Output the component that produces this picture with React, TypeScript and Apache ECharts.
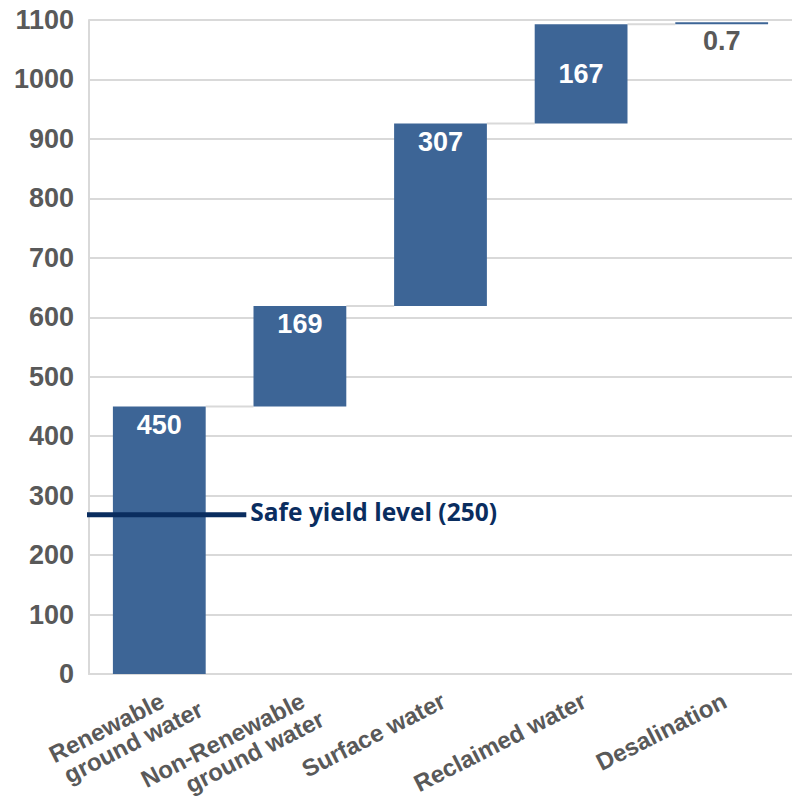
import React, { useEffect, useRef } from "react";
import * as echarts from "echarts";

// ---- data ----
const categories: string[] = [
  "Renewable\nground water",
  "Non-Renewable\nground water",
  "Surface water",
  "Reclaimed water",
  "Desalination",
];
const increments: number[] = [450, 169, 307, 167, 0.7];
const incrementLabels: string[] = ["450", "169", "307", "167", "0.7"];
const yMin = 0;
const yMax = 1100;
const yInterval = 100;
const safeYieldValue = 268;
const safeYieldText = "Safe yield level (250)";

// ---- styles ----
const FONT = "Arial, 'Liberation Sans', sans-serif";
const BAR = "#3d6596";
const GREY_TEXT = "#595959";
const GRID = "#d9d9d9";
const NAVY = "#0a2d5f";
const X_FONT_SIZE = 24;
const X_LINE_H = 25;
const X_ROT = (27 * Math.PI) / 180;
// extra shift (along the text direction) of the 2nd line of wrapped labels
const X_LINE2_SHIFT: number[] = [4, 37, 0, 0, 0];

const bases = increments.map((_, i) =>
  increments.slice(0, i).reduce((a, b) => a + b, 0)
);
const tops = bases.map((b, i) => b + increments[i]);

let measureCtx: CanvasRenderingContext2D | null = null;
function measure(text: string): number {
  if (!measureCtx) {
    measureCtx = document.createElement("canvas").getContext("2d");
  }
  if (!measureCtx) return text.length * X_FONT_SIZE * 0.55;
  measureCtx.font = `bold ${X_FONT_SIZE}px ${FONT}`;
  return measureCtx.measureText(text).width;
}

export default function App() {
  const ref = useRef<HTMLDivElement>(null);
  useEffect(() => {
    document.body.style.margin = "0";
    if (!ref.current) return;
    const chart = echarts.init(ref.current, undefined, { renderer: "svg" });
    const BAR_RATIO = 0.66;
    const last = increments.length - 1;

    const option: any = {
      animation: false,
      grid: { left: 89, top: 20, width: 705, height: 654 },
      xAxis: {
        type: "category",
        data: categories,
        axisLine: { show: true, lineStyle: { color: GRID, width: 2 } },
        axisTick: { show: false },
        axisLabel: { show: false },
        splitLine: { show: false },
      },
      yAxis: {
        type: "value",
        min: yMin,
        max: yMax,
        interval: yInterval,
        axisLine: { show: true, lineStyle: { color: GRID, width: 2 } },
        axisTick: { show: false },
        splitLine: { show: true, lineStyle: { color: GRID, width: 2 } },
        axisLabel: {
          color: GREY_TEXT,
          fontSize: 27,
          fontWeight: "bold",
          fontFamily: FONT,
          margin: 15,
          formatter: (v: number) => String(v),
        },
      },
      series: [
        {
          type: "bar",
          stack: "w",
          data: bases,
          barWidth: "66%",
          itemStyle: { color: "transparent" },
          silent: true,
        },
        {
          type: "bar",
          stack: "w",
          barWidth: "66%",
          barMinHeight: 2,
          itemStyle: { color: BAR },
          data: increments.map((v, i) =>
            i === last
              ? {
                  value: v,
                  label: { position: "bottom", color: GREY_TEXT, distance: 3 },
                }
              : i === last - 1
              ? { value: v, label: { distance: 36 } }
              : v
          ),
          label: {
            show: true,
            position: "insideTop",
            distance: 5,
            formatter: (p: any) => incrementLabels[p.dataIndex],
            color: "#ffffff",
            fontSize: 27,
            fontWeight: "bold",
            fontFamily: FONT,
          },
        },
        {
          // connectors between bars
          type: "custom",
          data: tops.slice(0, tops.length - 1).map((t, i) => [i, t]),
          encode: { x: 0, y: 1 },
          z: 1,
          silent: true,
          renderItem: (params: any, api: any) => {
            const idx = api.value(0);
            const p = api.coord([idx, api.value(1)]);
            const band = api.size([1, 0])[0];
            const bw = band * BAR_RATIO;
            return {
              type: "line",
              shape: {
                x1: p[0] + bw / 2,
                y1: p[1],
                x2: p[0] + band - bw / 2,
                y2: p[1],
              },
              style: { stroke: GRID, lineWidth: 2 },
            };
          },
        },
        {
          // safe yield line
          type: "custom",
          data: [[0, safeYieldValue]],
          encode: { x: 0, y: 1 },
          z: 5,
          clip: false,
          silent: true,
          renderItem: (params: any, api: any) => {
            const p = api.coord([api.value(0), api.value(1)]);
            const x1 = params.coordSys.x - 2;
            const x2 = p[0] + 87;
            return {
              type: "group",
              children: [
                {
                  type: "line",
                  shape: { x1, y1: p[1], x2, y2: p[1] },
                  style: { stroke: NAVY, lineWidth: 5 },
                },
                {
                  type: "text",
                  x: x2 + 4,
                  y: p[1] - 3,
                  style: {
                    text: safeYieldText,
                    fill: NAVY,
                    font: `bold 24.5px 'Open Sans', Lato, sans-serif`,
                    align: "left",
                    verticalAlign: "middle",
                  },
                },
              ],
            };
          },
        },
        {
          // rotated category labels
          type: "custom",
          data: categories.map((_, i) => [i, 0]),
          encode: { x: 0, y: 1 },
          clip: false,
          silent: true,
          renderItem: (params: any, api: any) => {
            const idx = api.value(0);
            const p = api.coord([idx, 0]);
            const lines = categories[idx].split("\n");
            const w1 = measure(lines[0]);
            return {
              type: "group",
              x: p[0] + 3,
              y: p[1] + 25,
              rotation: X_ROT,
              children: lines.map((l, j) => ({
                type: "text",
                x: j === 0 ? 0 : -w1 + X_LINE2_SHIFT[idx],
                y: j * X_LINE_H,
                style: {
                  text: l,
                  align: j === 0 ? "right" : "left",
                  verticalAlign: "middle",
                  fill: GREY_TEXT,
                  font: `bold ${X_FONT_SIZE}px ${FONT}`,
                },
              })),
            };
          },
        },
      ],
    };
    chart.setOption(option);
    return () => chart.dispose();
  }, []);
  return <div ref={ref} style={{ width: 792, height: 811 }} />;
}
